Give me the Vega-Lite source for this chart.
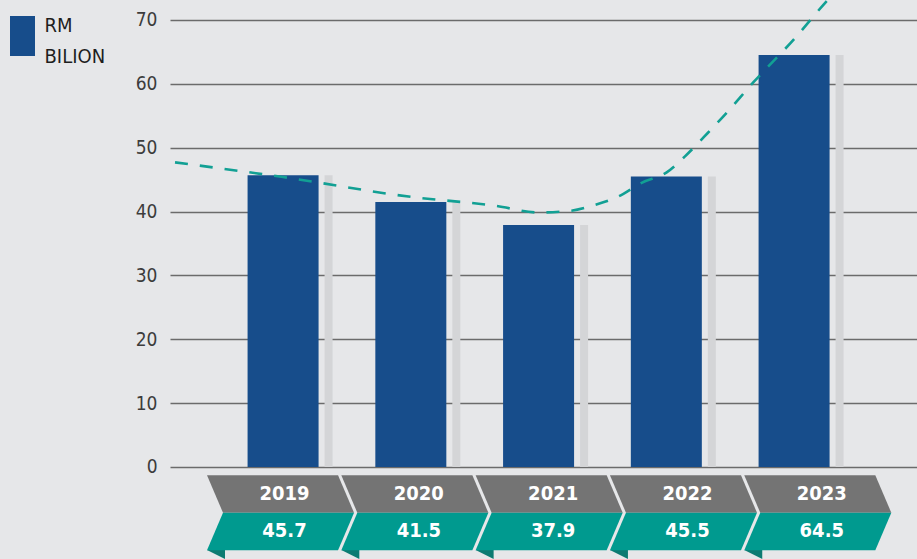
{
  "$schema": "https://vega.github.io/schema/vega-lite/v6.json",
  "width": 747,
  "height": 559,
  "autosize": "none",
  "padding": {"left": 170, "top": 0, "right": 0, "bottom": 0},
  "background": "#e6e7e9",
  "config": {"view": {"stroke": null}, "font": "DejaVu Sans Condensed, Roboto Condensed, Roboto, sans-serif"},
  "datasets": {
    "bars": [
      {"year": 2019, "value": 45.7},
      {"year": 2020, "value": 41.5},
      {"year": 2021, "value": 37.9},
      {"year": 2022, "value": 45.5},
      {"year": 2023, "value": 64.5}
    ],
    "trend": [
      {"year": 2018.154, "value": 47.7},
      {"year": 2019, "value": 45.4},
      {"year": 2020, "value": 42.3},
      {"year": 2020.664, "value": 40.9},
      {"year": 2021, "value": 39.85},
      {"year": 2021.243, "value": 40.1},
      {"year": 2021.436, "value": 41.0},
      {"year": 2021.629, "value": 42.4},
      {"year": 2021.807, "value": 44.5},
      {"year": 2022, "value": 46.1},
      {"year": 2022.169, "value": 49.1},
      {"year": 2022.324, "value": 52.3},
      {"year": 2022.478, "value": 55.6},
      {"year": 2022.684, "value": 60.3},
      {"year": 2023, "value": 67.0},
      {"year": 2023.266, "value": 73.2},
      {"year": 2023.5, "value": 78}
    ]
  },
  "layer": [
    {
      "layer": [
        {
          "data": {"name": "bars"},
          "mark": {"type": "bar", "width": 8, "xOffset": 45.5, "color": "#d4d5d7"},
          "encoding": {
            "x": {"field": "year", "type": "quantitative", "scale": {"domain": [2018.154, 2023.923], "nice": false, "zero": false}, "axis": null},
            "y": {"field": "value", "type": "quantitative", "scale": {"domain": [-14.41, 73.13], "nice": false, "zero": false},
              "axis": {"values": [0, 10, 20, 30, 40, 50, 60, 70], "grid": true, "gridColor": "#6b6b6b", "gridWidth": 1.5, "domain": false, "ticks": false, "labelPadding": 13, "labelFontSize": 19, "labelColor": "#3c3c3c", "title": null}}
          }
        },
        {
          "data": {"name": "bars"},
          "mark": {"type": "bar", "width": 71},
          "encoding": {
            "x": {"field": "year", "type": "quantitative"},
            "y": {"field": "value", "type": "quantitative"},
            "color": {"datum": "RM BILION", "type": "nominal", "scale": {"range": ["#174d8b"]},
              "legend": {"orient": "none", "legendX": -167.5, "legendY": 16, "padding": 0,
                "title": ["RM", "BILION"], "titleOrient": "right", "titleLineHeight": 31, "titleFontSize": 20, "titleFontWeight": "normal", "titleColor": "#1e1e1e", "titlePadding": 2, "titleBaseline": "top", "titleAnchor": "start",
                "symbolType": "M-0.625,-1L0.625,-1L0.625,1L-0.625,1Z", "symbolSize": 1600, "symbolStrokeWidth": 0,
                "labelExpr": "''", "labelOffset": 0}}
          }
        },
        {
          "data": {"name": "trend"},
          "mark": {"type": "line", "interpolate": "monotone", "clip": true, "color": "#12a094", "strokeWidth": 2.6, "strokeDash": [13, 12]},
          "encoding": {
            "x": {"field": "year", "type": "quantitative"},
            "y": {"field": "value", "type": "quantitative"}
          }
        }
      ]
    },
    {
      "data": {"name": "bars"},
      "encoding": {
        "x": {"field": "year", "type": "quantitative", "scale": {"domain": [2018.1772, 2023.7386], "nice": false, "zero": false}, "axis": null}
      },
      "layer": [
        {
          "mark": {"type": "point", "shape": "M-0.919,0.231L-0.694,0.231L-0.694,0.344Z", "size": 25600, "filled": true, "opacity": 1, "color": "#0d7b72"},
          "encoding": {"y": {"datum": -10.1, "type": "quantitative"}}
        },
        {
          "mark": {"type": "point", "shape": "M-0.919,-0.234L0.719,-0.234L0.919,0.234L-0.719,0.234Z", "size": 25600, "filled": true, "opacity": 1, "color": "#747474"},
          "encoding": {"y": {"datum": -4.23, "type": "quantitative"}}
        },
        {
          "mark": {"type": "point", "shape": "M-0.719,-0.234L0.919,-0.234L0.719,0.234L-0.919,0.234Z", "size": 25600, "filled": true, "opacity": 1, "color": "#009a8f"},
          "encoding": {"y": {"datum": -10.1, "type": "quantitative"}}
        },
        {
          "mark": {"type": "text", "color": "#ffffff", "fontWeight": "bold", "fontSize": 20, "baseline": "middle", "dx": 4},
          "encoding": {"y": {"datum": -4.23, "type": "quantitative"}, "text": {"field": "year", "type": "nominal"}}
        },
        {
          "mark": {"type": "text", "color": "#ffffff", "fontWeight": "bold", "fontSize": 20, "baseline": "middle", "dx": 4},
          "encoding": {"y": {"datum": -10.1, "type": "quantitative"}, "text": {"field": "value", "type": "quantitative", "format": ".1f"}}
        }
      ]
    }
  ],
  "resolve": {"scale": {"x": "independent"}}
}
